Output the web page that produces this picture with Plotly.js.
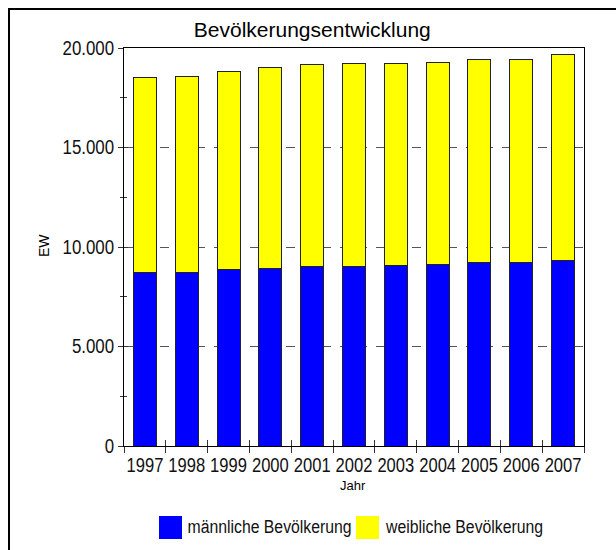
<!DOCTYPE html>
<html>
<head>
<meta charset="utf-8">
<script src="https://cdn.plot.ly/plotly-3.0.1.min.js"></script>
<style>
html,body{margin:0;padding:0;background:#fff;}
#chart{width:616px;height:550px;}
</style>
</head>
<body>
<div id="chart"></div>
<script>
const years = ["1997","1998","1999","2000","2001","2002","2003","2004","2005","2006","2007"];
const maleName = "männliche Bevölkerung";
const femaleName = "weibliche Bevölkerung";
const male = [8715, 8730, 8866, 8900, 9000, 9030, 9080, 9120, 9230, 9220, 9320];
const female = [9815, 9850, 9944, 10110, 10160, 10200, 10130, 10140, 10180, 10190, 10330];
const maleColor = "#0000ff";
const femaleColor = "#ffff00";
const chartTitle = "Bevölkerungsentwicklung";
const xTitle = "Jahr";
const yTitle = "EW";

const arial = "'Liberation Sans', Arial, sans-serif";

const traces = [
  {type:"bar", name:maleName, x:years, y:male, marker:{color:maleColor, line:{color:"#222", width:1}}, showlegend:false},
  {type:"bar", name:femaleName, x:years, y:female, marker:{color:femaleColor, line:{color:"#222", width:1}}, showlegend:false},
  {type:"scatter", mode:"none", x:years, y:male.map(()=>null), xaxis:"x2", yaxis:"y2", showlegend:false, hoverinfo:"skip"}
];

// pixel -> paper helpers (plot area 124..584 x, 48..446 y)
const px = X => (X-124)/460;
const py = Y => (446-Y)/398;

const xRange = [-0.5, years.length - 0.5];

const layout = {
  width:616, height:550,
  margin:{l:124, r:32, t:48, b:104, autoexpand:false},
  paper_bgcolor:"#fff", plot_bgcolor:"#fff",
  barmode:"stack", bargap:0.45,
  separators:",.",
  title:{text:chartTitle, font:{family:arial, size:21, color:"#000"}, xref:"container", x:0.507, yref:"container", y:1-30/550, xanchor:"center", yanchor:"middle", automargin:false},
  xaxis:{type:"category", range:xRange, automargin:false, tickson:"boundaries", ticks:"outside", ticklen:6, tickcolor:"#333", tickangle:0,
    showline:true, linecolor:"#000", linewidth:1, mirror:true, showgrid:false, ticklabelstandoff:2,
    tickfont:{family:arial, size:19.5, color:"#111"}},
  yaxis:{range:[0,20000], automargin:false, dtick:5000, tickformat:",d", ticks:"outside", ticklen:5, tickcolor:"#333",
    minor:{dtick:2500, ticks:"outside", ticklen:3, tickcolor:"#333", showgrid:false},
    showline:true, linecolor:"#000", linewidth:1, mirror:true,
    showgrid:true, gridcolor:"#555", griddash:"dash", gridwidth:1, zeroline:false,
    tickfont:{family:arial, size:19.5, color:"#111"}},
  xaxis2:{type:"category", range:xRange, automargin:false, overlaying:"x", tickson:"boundaries", ticks:"inside", ticklen:6, tickcolor:"#333", showticklabels:false, showgrid:false, showline:false, zeroline:false},
  yaxis2:{overlaying:"y", automargin:false, range:[0,20000], dtick:5000, ticks:"inside", ticklen:4, tickcolor:"#333",
    minor:{dtick:2500, ticks:"inside", ticklen:3, tickcolor:"#333"},
    showticklabels:false, showgrid:false, showline:false, zeroline:false},
  shapes:[
    {type:"rect", xref:"paper", yref:"paper", x0:px(9), x1:px(700), y0:py(9), y1:py(700), line:{color:"#000", width:2}, fillcolor:"rgba(0,0,0,0)"},
    {type:"rect", xref:"paper", yref:"paper", x0:px(159), x1:px(182), y0:py(516), y1:py(539), line:{width:0}, fillcolor:maleColor},
    {type:"rect", xref:"paper", yref:"paper", x0:px(356), x1:px(379), y0:py(516), y1:py(539), line:{width:0}, fillcolor:femaleColor}
  ],
  annotations:[
    {xref:"paper", yref:"paper", x:px(353), y:py(485), xanchor:"center", yanchor:"middle", showarrow:false, text:xTitle, font:{family:arial, size:13, color:"#000"}},
    {xref:"paper", yref:"paper", x:px(44), y:py(246), xanchor:"center", yanchor:"middle", showarrow:false, textangle:-90, text:yTitle, font:{family:arial, size:14, color:"#000"}},
    {xref:"paper", yref:"paper", x:px(269), y:py(527), xanchor:"center", yanchor:"middle", showarrow:false, text:maleName, font:{family:arial, size:18, color:"#111"}},
    {xref:"paper", yref:"paper", x:px(464), y:py(527), xanchor:"center", yanchor:"middle", showarrow:false, text:femaleName, font:{family:arial, size:18, color:"#111"}}
  ]
};

function condense(sel, factor){
  document.querySelectorAll(sel).forEach(t => {
    const len = t.getComputedTextLength();
    if (len > 0) {
      t.setAttribute("textLength", (len*factor).toFixed(2));
      t.setAttribute("lengthAdjust", "spacingAndGlyphs");
    }
  });
}

Plotly.newPlot("chart", traces, layout, {displayModeBar:false, staticPlot:true}).then(() => {
  condense("#chart .xtick text", 0.85);
  condense("#chart .ytick text", 0.865);
  document.querySelectorAll("#chart .annotation-text").forEach(t => {
    if (t.textContent === maleName || t.textContent === femaleName) {
      const len = t.getComputedTextLength();
      t.setAttribute("textLength", (len*0.877).toFixed(2));
      t.setAttribute("lengthAdjust", "spacingAndGlyphs");
    }
  });
});
</script>
</body>
</html>
